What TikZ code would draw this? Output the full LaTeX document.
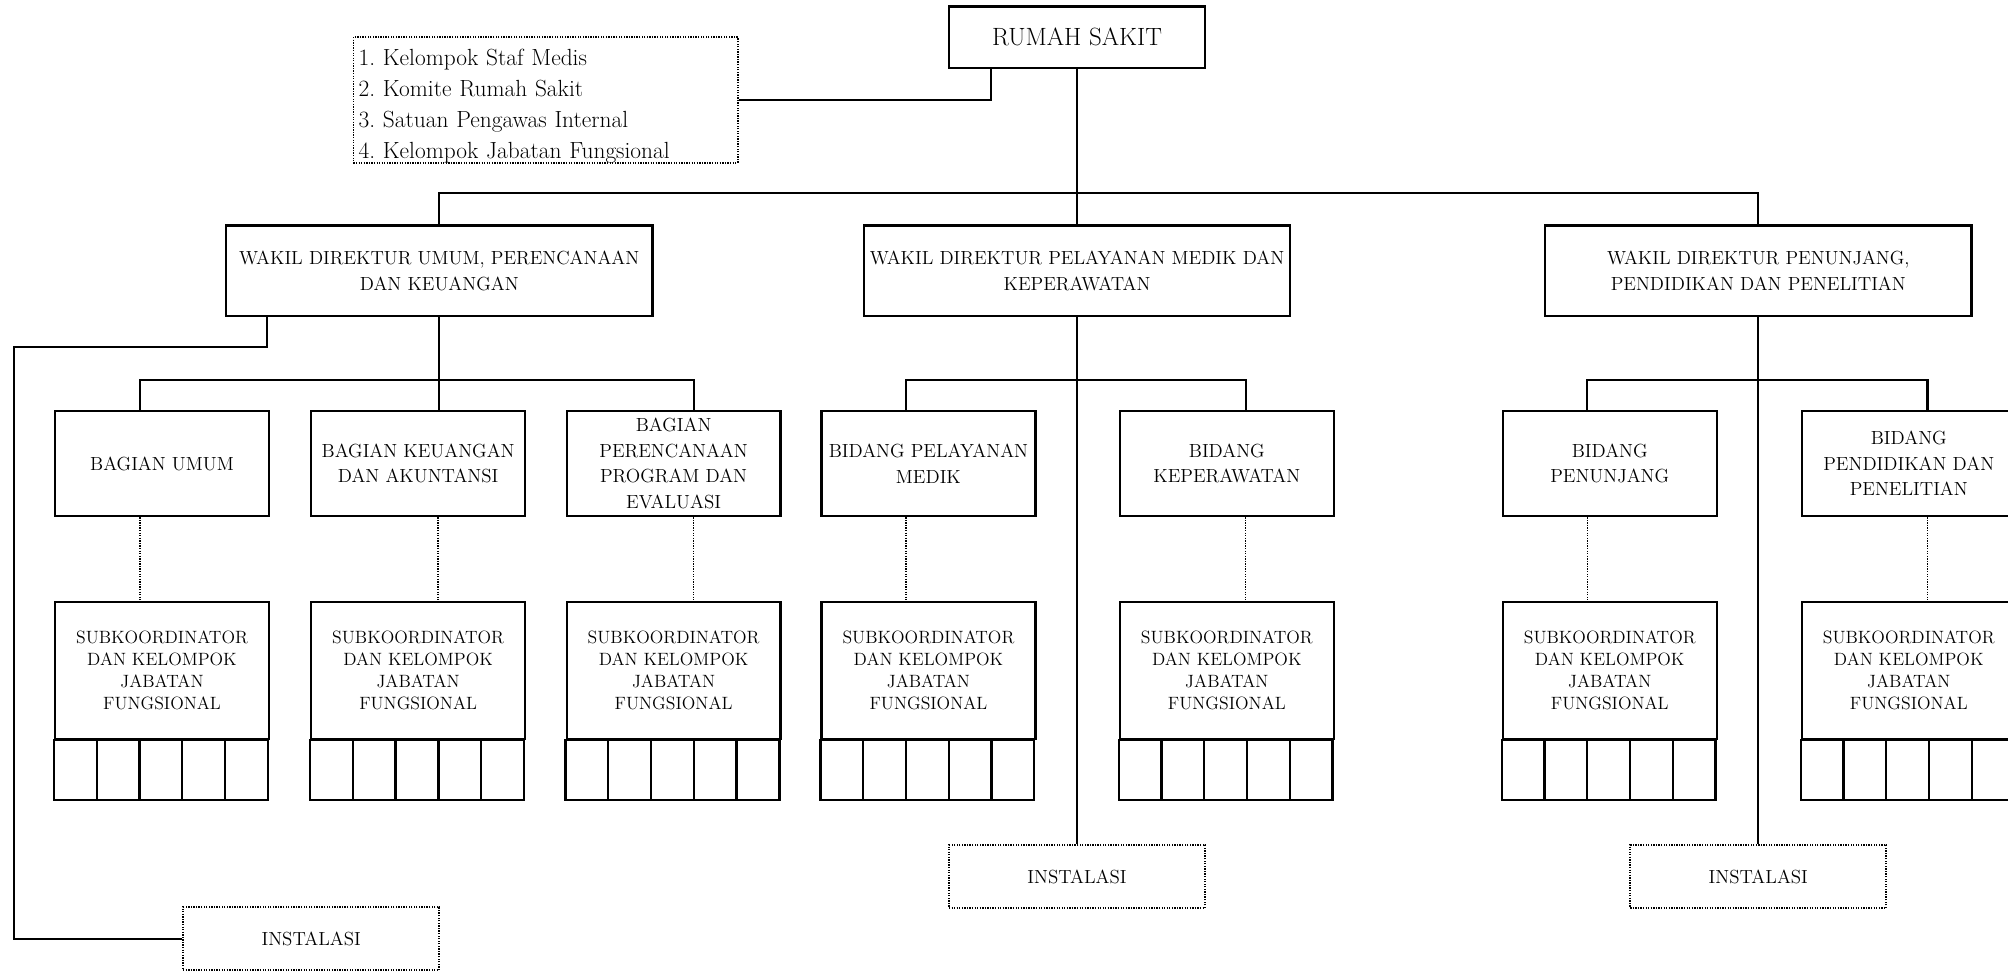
\documentclass[tikz,border=0pt]{standalone}
\usetikzlibrary{calc}
\newcommand{\fntW}{\fontsize{14.8}{20}\selectfont}
\newcommand{\fntS}{\fontsize{13.9}{17.3}\selectfont}
\newcommand{\fntR}{\fontsize{19.5}{22}\selectfont}
\newcommand{\fntL}{\fontsize{18.25}{24.2}\selectfont}
\begin{document}
\frenchspacing
\begin{tikzpicture}[x=1pt,y=-1pt,
  box/.style={draw, line width=1.8pt, inner sep=2pt, align=center},
  dbox/.style={draw, line width=1.4pt, dash pattern=on 1pt off 1pt, inner sep=2pt, align=center},
  conn/.style={line width=1.6pt},
  dconn/.style={line width=1.4pt, dash pattern=on 1pt off 1pt},
  rsbox/.style={box, minimum width=200pt, minimum height=48pt, font=\fntR},
  wbox/.style={box, inner xsep=0pt, minimum width=333pt, minimum height=71pt, font=\fntW},
  rbox/.style={box, minimum width=167pt, minimum height=82pt, font=\fntW},
  sbox/.style={box, minimum width=167pt, minimum height=107pt, font=\fntS},
  ibox/.style={dbox, minimum width=200pt, minimum height=49pt, font=\fntW},
  cellline/.style={line width=1.8pt},
]
\clip (0,0) rectangle (1568,758);

% top
\node[rsbox] (rs) at (841,29) {RUMAH SAKIT};
\node[dbox, font=\fntL, align=left, text width=292pt, inner xsep=4pt, minimum height=98pt] (side) at (426,78)
  {\raisebox{-5pt}[\height][\depth]{\parbox{292pt}{1. Kelompok Staf Medis\\2. Komite Rumah Sakit\\3. Satuan Pengawas Internal\\4. Kelompok Jabatan Fungsional}}};

% wakil direktur
\node[wbox] (w1) at (343,211.5) {WAKIL DIREKTUR UMUM, PERENCANAAN\\DAN KEUANGAN};
\node[wbox] (w2) at (841,211.5) {WAKIL DIREKTUR PELAYANAN MEDIK DAN\\KEPERAWATAN};
\node[wbox] (w3) at (1373,211.5) {WAKIL DIREKTUR PENUNJANG,\\PENDIDIKAN DAN PENELITIAN};

% bagian / bidang
\node[rbox] (bu) at (126.5,362) {BAGIAN UMUM};
\node[rbox] (bk) at (326.5,362) {BAGIAN KEUANGAN\\DAN AKUNTANSI};
\node[rbox] (bp) at (526,362) {BAGIAN\\PERENCANAAN\\PROGRAM DAN\\EVALUASI};
\node[rbox] (pm) at (725,362) {BIDANG PELAYANAN\\MEDIK};
\node[rbox] (kp) at (958,362) {BIDANG\\KEPERAWATAN};
\node[rbox] (pj) at (1257,362) {BIDANG\\PENUNJANG};
\node[rbox] (pd) at (1490.5,362) {BIDANG\\PENDIDIKAN DAN\\PENELITIAN};

% subkoordinator
\node[sbox] (s1) at (126.5,523.5) {SUBKOORDINATOR\\DAN KELOMPOK\\JABATAN\\FUNGSIONAL};
\node[sbox] (s2) at (326.5,523.5) {SUBKOORDINATOR\\DAN KELOMPOK\\JABATAN\\FUNGSIONAL};
\node[sbox] (s3) at (526,523.5) {SUBKOORDINATOR\\DAN KELOMPOK\\JABATAN\\FUNGSIONAL};
\node[sbox] (s4) at (725,523.5) {SUBKOORDINATOR\\DAN KELOMPOK\\JABATAN\\FUNGSIONAL};
\node[sbox] (s5) at (958,523.5) {SUBKOORDINATOR\\DAN KELOMPOK\\JABATAN\\FUNGSIONAL};
\node[sbox] (s6) at (1257,523.5) {SUBKOORDINATOR\\DAN KELOMPOK\\JABATAN\\FUNGSIONAL};
\node[sbox] (s7) at (1490.5,523.5) {SUBKOORDINATOR\\DAN KELOMPOK\\JABATAN\\FUNGSIONAL};

\foreach \s in {s1,s2,s3,s4,s5,s6,s7} {
  \draw[cellline] (\s.south west) rectangle ++(167,47);
  \foreach \k in {1,2,3,4} {
    \draw[cellline] ($(\s.south west)+(\k*33.4,0)$) -- ++(0,47);
  }
}

% instalasi
\node[ibox] (i1) at (243,733) {INSTALASI};
\node[ibox] (i2) at (841,684.5) {INSTALASI};
\node[ibox] (i3) at (1373,684.5) {INSTALASI};

% connectors top
\coordinate (bus0) at (841,151);
\draw[conn] (side.east) -| ([xshift=34pt]rs.south west);
\draw[conn] (rs.south) -- (bus0);
\draw[conn] (w1.north) |- (bus0) -| (w3.north);
\draw[conn] (bus0) -- (w2.north);

% left instalasi
\coordinate (k1) at (11,271);
\draw[conn] ([xshift=33pt]w1.south west) |- (k1) |- (i1.west);

% wakil 1 branch
\coordinate (b1) at (343,297);
\draw[conn] (w1.south) -- (w1.south |- bk.north);
\draw[conn] ([xshift=67pt]bu.north west) |- (b1) -| ([xshift=100pt]bp.north west);

% wakil 2 branch
\coordinate (b2) at (841,297);
\draw[conn] (w2.south) -- (i2.north);
\draw[conn] ([xshift=67pt]pm.north west) |- (b2) -| ([xshift=99pt]kp.north west);

% wakil 3 branch
\coordinate (b3) at (1373,297);
\draw[conn] (w3.south) -- (i3.north);
\draw[conn] ([xshift=67pt]pj.north west) |- (b3) -| ([xshift=99pt]pd.north west);

% dotted links
\draw[dconn] ([xshift=67pt]bu.south west) coordinate (d1) -- (d1 |- s1.north);
\draw[dconn] ([xshift=100pt]bk.south west) coordinate (d2) -- (d2 |- s2.north);
\draw[dconn] ([xshift=100pt]bp.south west) coordinate (d3) -- (d3 |- s3.north);
\draw[dconn] ([xshift=67pt]pm.south west) coordinate (d4) -- (d4 |- s4.north);
\draw[dconn] ([xshift=99pt]kp.south west) coordinate (d5) -- (d5 |- s5.north);
\draw[dconn] ([xshift=67pt]pj.south west) coordinate (d6) -- (d6 |- s6.north);
\draw[dconn] ([xshift=99pt]pd.south west) coordinate (d7) -- (d7 |- s7.north);
\end{tikzpicture}
\end{document}
